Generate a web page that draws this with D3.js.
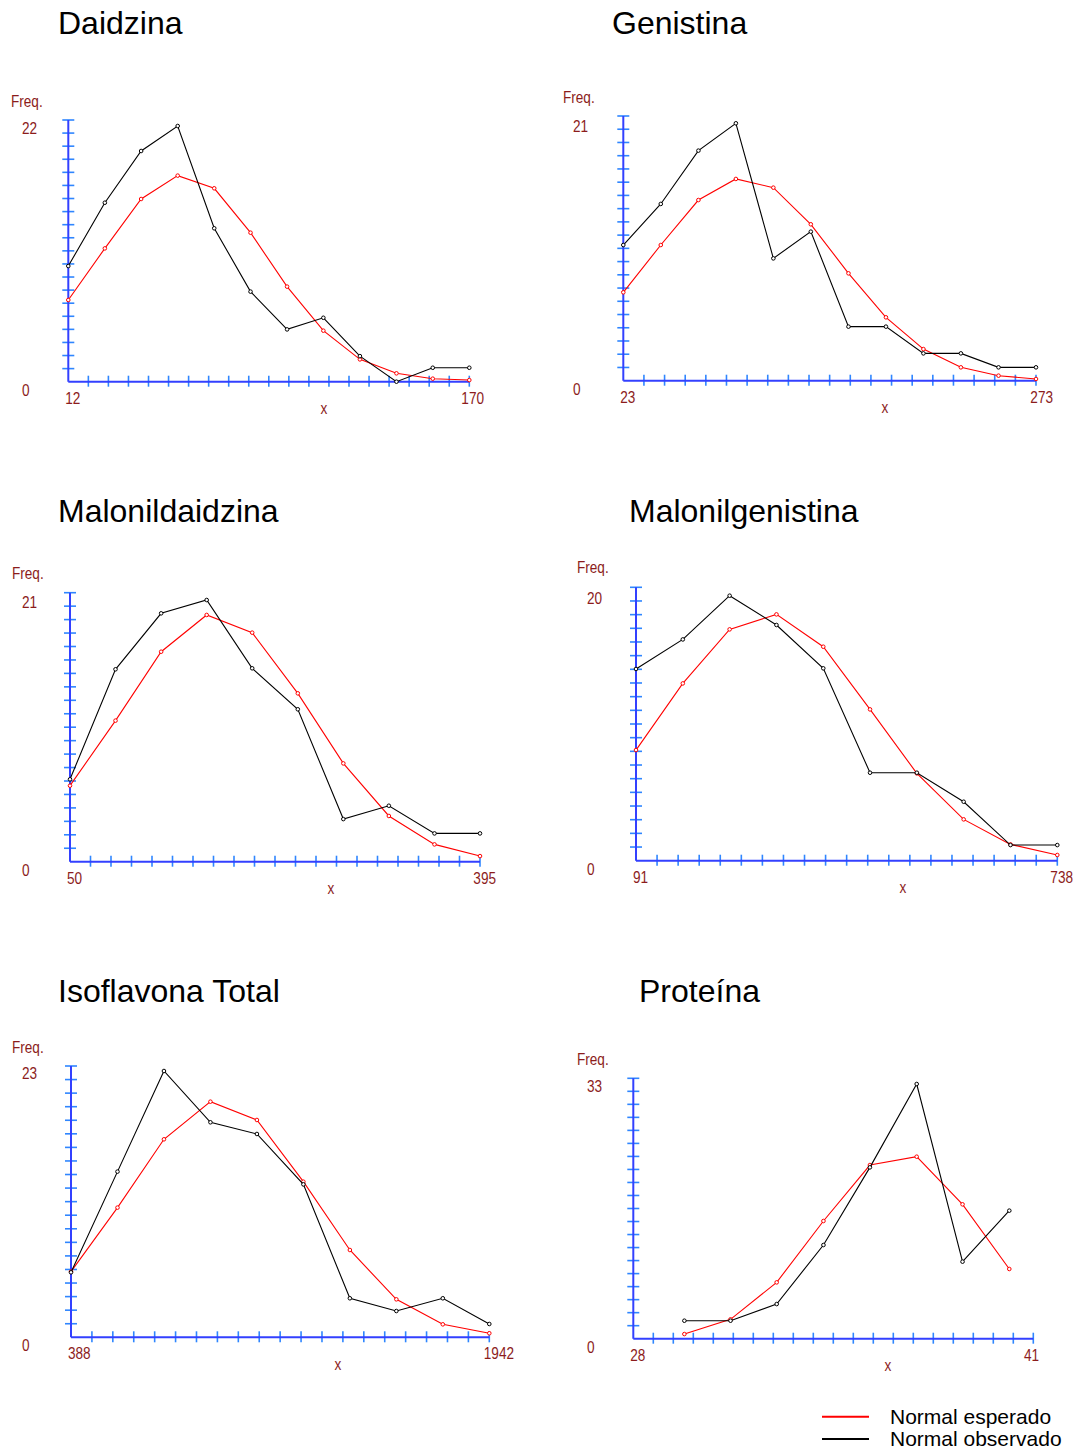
<!DOCTYPE html>
<html>
<head>
<meta charset="utf-8">
<script src="https://cdn.jsdelivr.net/npm/d3@7"></script>
<style>
  html, body { margin: 0; padding: 0; background: #fff; }
  svg { display: block; }
</style>
</head>
<body>
<svg id="chart" width="1082" height="1450"></svg>
<script>
// ---------------- DATA ----------------
const titles = ["Daidzina", "Genistina", "Malonildaidzina", "Malonilgenistina", "Isoflavona Total", "Proteína"];
const xMinLabels = [12, 23, 50, 91, 388, 28];
const xMaxLabels = [170, 273, 395, 738, 1942, 41];
const yMaxLabels = [22, 21, 21, 20, 23, 33];
const legendLabels = ["Normal esperado", "Normal observado"];

const daidzinaX   = [12, 26.4, 40.7, 55.1, 69.5, 83.8, 98.2, 112.5, 126.9, 141.3, 155.6, 170];
const daidzinaObs = [9.95, 15.4, 19.85, 22, 13.2, 7.75, 4.5, 5.5, 2.2, 0, 1.2, 1.2];
const daidzinaEsp = [7.03, 11.47, 15.72, 17.73, 16.64, 12.82, 8.18, 4.39, 1.92, 0.72, 0.26, 0.14];

const genistinaX   = [23, 45.7, 68.5, 91.2, 113.9, 136.6, 159.4, 182.1, 204.8, 227.5, 250.3, 273];
const genistinaObs = [11.07, 14.42, 18.77, 21, 9.98, 12.16, 4.41, 4.41, 2.23, 2.23, 1.09, 1.09];
const genistinaEsp = [7.21, 11.07, 14.74, 16.46, 15.75, 12.76, 8.76, 5.17, 2.58, 1.09, 0.41, 0.14];

const malonildaidzinaX   = [50, 88.3, 126.7, 165, 203.3, 241.7, 280, 318.3, 356.7, 395];
const malonildaidzinaObs = [6.61, 15.44, 19.93, 21, 15.52, 12.23, 3.42, 4.49, 2.27, 2.27];
const malonildaidzinaEsp = [6.10, 11.32, 16.85, 19.80, 18.38, 13.51, 7.89, 3.67, 1.39, 0.45];

const malonilgenistinaX   = [91, 162.9, 234.8, 306.7, 378.6, 450.4, 522.3, 594.2, 666.1, 738];
const malonilgenistinaObs = [14.47, 16.70, 20, 17.79, 14.52, 6.64, 6.64, 4.45, 1.18, 1.18];
const malonilgenistinaEsp = [8.35, 13.38, 17.46, 18.59, 16.15, 11.42, 6.59, 3.12, 1.23, 0.43];

const isoflavonaX   = [388, 560.7, 733.3, 906, 1078.7, 1251.3, 1424, 1596.7, 1769.3, 1942];
const isoflavonaObs = [5.61, 14.31, 23, 18.57, 17.56, 13.21, 3.37, 2.27, 3.37, 1.15];
const isoflavonaEsp = [5.67, 11.20, 17.10, 20.35, 18.77, 13.44, 7.54, 3.28, 1.12, 0.35];

const proteinaX   = [29.66, 31.16, 32.66, 34.18, 35.69, 37.21, 38.70, 40.22];
const proteinaObs = [2.33, 2.33, 4.49, 12.14, 22.2, 33, 9.98, 16.59];
const proteinaEsp = [0.60, 2.51, 7.30, 15.25, 22.5, 23.58, 17.41, 9.03];

const seriesX   = [daidzinaX, genistinaX, malonildaidzinaX, malonilgenistinaX, isoflavonaX, proteinaX];
const seriesObs = [daidzinaObs, genistinaObs, malonildaidzinaObs, malonilgenistinaObs, isoflavonaObs, proteinaObs];
const seriesEsp = [daidzinaEsp, genistinaEsp, malonildaidzinaEsp, malonilgenistinaEsp, isoflavonaEsp, proteinaEsp];

// ---------------- LAYOUT ----------------
const layout = [
  {ax: 68.3,  right: 469.3,  top: 120,    bottom: 381.7,  peak: 126,    titleX: 58,  titleY: 34,   labX: 22,  freqX: 11,  freqY: 102,  maxEnd: 484,  xLabX: 324},
  {ax: 623.3, right: 1036,   top: 116,    bottom: 380.7,  peak: 123.3,  titleX: 612, titleY: 34,   labX: 573, freqX: 563, freqY: 98,   maxEnd: 1053, xLabX: 885},
  {ax: 70,    right: 480,    top: 592.7,  bottom: 861.7,  peak: 600,    titleX: 58,  titleY: 522,  labX: 22,  freqX: 12,  freqY: 574,  maxEnd: 496,  xLabX: 331},
  {ax: 636,   right: 1057.3, top: 587.3,  bottom: 860.7,  peak: 595.7,  titleX: 629, titleY: 522,  labX: 587, freqX: 577, freqY: 568,  maxEnd: 1073, xLabX: 903},
  {ax: 71,    right: 489.3,  top: 1066,   bottom: 1337.3, peak: 1071,   titleX: 58,  titleY: 1002, labX: 22,  freqX: 12,  freqY: 1048, maxEnd: 514,  xLabX: 338},
  {ax: 633.3, right: 1033.3, top: 1078.3, bottom: 1338.7, peak: 1084,   titleX: 639, titleY: 1002, labX: 587, freqX: 577, freqY: 1060, maxEnd: 1039, xLabX: 888}
];

const AXIS = "#3340ff", TICK = "#2f86ff", LABEL = "#8c1c1c";
const RED = "#ff0000", BLACK = "#000000";
const smallFont = "'Liberation Sans', Arial, sans-serif";

const svg = d3.select("#chart");

titles.forEach((title, i) => {
  const L = layout[i];
  const g = svg.append("g");

  const x = d3.scaleLinear().domain([xMinLabels[i], xMaxLabels[i]]).range([L.ax, L.right]);
  const y = d3.scaleLinear().domain([0, yMaxLabels[i]]).range([L.bottom, L.peak]);
  const tickX = d3.scaleLinear().domain([0, 20]).range([L.ax, L.right]);
  const tickY = d3.scaleLinear().domain([0, 20]).range([L.bottom, L.top]);

  // title
  g.append("text").attr("x", L.titleX).attr("y", L.titleY)
    .attr("font-family", "'Liberation Sans', Arial, sans-serif").attr("font-size", 32)
    .attr("fill", "#000").text(title);

  // ticks
  g.selectAll(".yt").data(d3.range(1, 21)).enter().append("line")
    .attr("x1", L.ax - 6).attr("x2", L.ax + 6)
    .attr("y1", d => tickY(d)).attr("y2", d => tickY(d))
    .attr("stroke", TICK).attr("stroke-width", 1.6);
  g.selectAll(".xt").data(d3.range(1, 21)).enter().append("line")
    .attr("x1", d => tickX(d)).attr("x2", d => tickX(d))
    .attr("y1", L.bottom - 6).attr("y2", L.bottom + 5)
    .attr("stroke", TICK).attr("stroke-width", 1.6);

  // axis lines
  g.append("line").attr("x1", L.ax).attr("x2", L.ax).attr("y1", L.top).attr("y2", L.bottom)
    .attr("stroke", AXIS).attr("stroke-width", 2);
  g.append("line").attr("x1", L.ax).attr("x2", L.right).attr("y1", L.bottom).attr("y2", L.bottom)
    .attr("stroke", AXIS).attr("stroke-width", 2);

  // labels (tall, slightly condensed like the original bitmap font)
  const lab = (txt, xx, yy, anchor) => g.append("text")
    .attr("transform", `translate(${xx},${yy}) scale(0.85,1)`)
    .attr("font-family", smallFont).attr("font-size", 16).attr("fill", LABEL)
    .attr("text-anchor", anchor || "start").attr("dominant-baseline", "central").text(txt);
  lab("Freq.", L.freqX, L.freqY);
  lab(String(yMaxLabels[i]), L.labX, y(yMaxLabels[i]) + 3);
  lab("0", L.labX, L.bottom + 8.5);
  lab(String(xMinLabels[i]), L.ax - 3, L.bottom + 16.5);
  lab(String(xMaxLabels[i]), L.maxEnd, L.bottom + 16.5, "end");
  lab("x", L.xLabX, L.bottom + 27, "middle");

  // series
  const draw = (vals, color) => {
    const pts = vals.map((v, k) => [seriesX[i][k], v]);
    const line = d3.line().x(d => x(d[0])).y(d => y(d[1]));
    g.append("path").datum(pts).attr("d", line).attr("fill", "none")
      .attr("stroke", color).attr("stroke-width", 1.1);
    g.selectAll(null).data(pts).enter().append("circle")
      .attr("cx", d => x(d[0])).attr("cy", d => y(d[1])).attr("r", 1.8)
      .attr("fill", "#fff").attr("stroke", color).attr("stroke-width", 1);
  };
  draw(seriesEsp[i], RED);
  draw(seriesObs[i], BLACK);
});

// legend
const legColors = [RED, BLACK];
const legY = d3.scaleLinear().domain([0, 1]).range([1416.7, 1439]);
legendLabels.forEach((t, k) => {
  svg.append("line").attr("x1", 822).attr("x2", 869)
    .attr("y1", legY(k)).attr("y2", legY(k))
    .attr("stroke", legColors[k]).attr("stroke-width", 2);
  svg.append("text").attr("x", 890).attr("y", legY(k) + 7)
    .attr("font-family", "'Liberation Sans', Arial, sans-serif").attr("font-size", 21)
    .attr("fill", "#000").text(t);
});
</script>
</body>
</html>
